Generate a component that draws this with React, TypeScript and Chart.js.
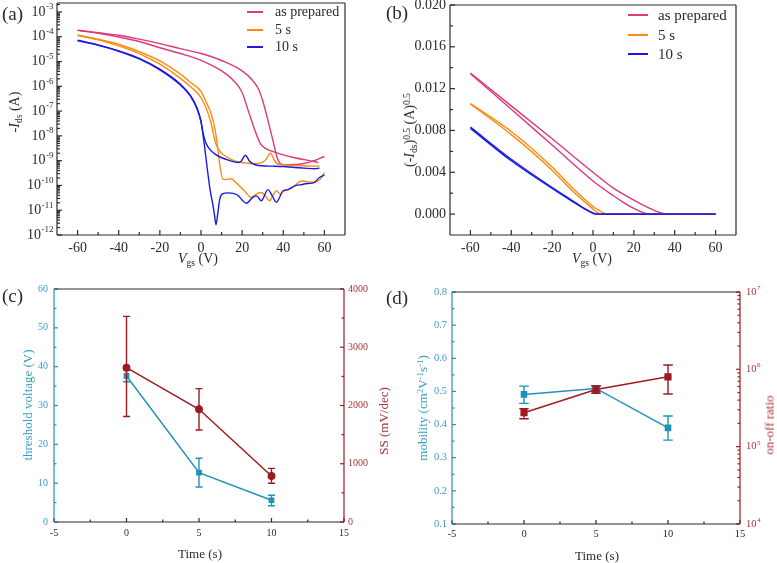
import React, { useEffect, useRef } from 'react';
import { Chart, registerables } from 'chart.js';

Chart.register(...registerables);

const SERIF = '"Liberation Serif", "Times New Roman", Times, serif';
Chart.defaults.font.family = SERIF;

const PINK = '#dc3a78';
const ORANGE = '#ff8a12';
const BLUE = '#1a1ae6';
const TEAL = '#2192b8';
const TEAL_TXT = '#3a9ec6';
const RED = '#9b1c20';
const RED_TXT = '#a8343a';
const INK = '#2a2a2a';

// ---------------- (a) transfer curves, log scale ----------------
const aTicksX = [-60, -40, -20, 0, 20, 40, 60];
const aMinorX = [-50, -30, -10, 10, 30, 50];
const aTicksY = [1e-12, 1e-11, 1e-10, 1e-9, 1e-8, 1e-7, 1e-6, 1e-5, 1e-4, 1e-3];

const aPrep1V = [-60, -50, -40, -30, -20, -10, 0, 10, 16, 20, 23, 26, 29, 32, 35, 40, 45, 50, 55, 57];
const aPrep1I = [1.8e-4, 1.38e-4, 9.8e-5, 6.4e-5, 3.6e-5, 2.1e-5, 1.12e-5, 4.2e-6, 1.65e-6, 5.6e-7, 1.02e-7, 1.86e-8, 4.6e-9, 2.9e-9, 2.3e-9, 1.7e-9, 1.34e-9, 1.1e-9, 9.2e-10, 8.4e-10];
const aPrep2V = [-60, -50, -40, -30, -20, -10, 0, 10, 20, 25, 28, 30, 33, 35, 37, 39, 42, 45, 50, 55, 60];
const aPrep2I = [1.85e-4, 1.45e-4, 1.15e-4, 8.0e-5, 5.3e-5, 3.3e-5, 2.1e-5, 1.1e-5, 4.2e-6, 1.76e-6, 7.6e-7, 2.6e-7, 3.0e-8, 6.3e-9, 1.34e-9, 7.2e-10, 6.8e-10, 7.0e-10, 7.7e-10, 1.0e-9, 1.47e-9];

const aFive1V = [-60, -50, -40, -30, -20, -10, -5, 0, 3, 5, 6, 7, 8, 10, 13, 16, 19.5, 23, 26, 29.3, 31.5, 33.8, 35.5, 37.4, 40, 45, 50, 55, 57.6];
const aFive1I = [1.15e-4, 7.5e-5, 4.3e-5, 2.1e-5, 7.8e-6, 2.1e-6, 9.5e-7, 3.5e-7, 1.02e-7, 3.0e-8, 1.2e-8, 5.5e-9, 3.4e-9, 2.0e-9, 1.34e-9, 1.0e-9, 8.4e-10, 7.9e-10, 7.7e-10, 8.1e-10, 1.1e-9, 2.0e-9, 1.1e-9, 7.2e-10, 6.8e-10, 6.4e-10, 6.2e-10, 6.0e-10, 6.0e-10];
const aFive2V = [-60, -50, -40, -30, -20, -10, -5, 0, 3, 5, 7, 8, 9, 10.6, 12, 14.6, 17, 19, 21, 24.4, 27, 29.3, 31, 33.3, 35, 36.6, 38.5, 40, 42.3, 45, 48.8, 52, 55, 58, 60];
const aFive2I = [1.15e-4, 7.9e-5, 5.0e-5, 2.5e-5, 1.06e-5, 3.1e-6, 1.42e-6, 6.1e-7, 1.9e-7, 7.5e-8, 1.5e-8, 4.0e-9, 8.0e-10, 1.79e-10, 1.75e-10, 1.85e-10, 1.3e-10, 9.0e-11, 6.1e-11, 3.3e-11, 4.5e-11, 5.2e-11, 4.0e-11, 2.4e-11, 4.0e-11, 6.1e-11, 4.5e-11, 5.7e-11, 6.8e-11, 8.8e-11, 1.5e-10, 1.4e-10, 1.35e-10, 1.8e-10, 3.3e-10];

const aTen1V = [-60, -50, -40, -30, -20, -10, -5, -2, 0, 0.8, 2, 3.5, 4.9, 7, 9.8, 14, 17.9, 19.5, 21.6, 23.6, 26, 29.3, 35, 40, 45.5, 50, 55.3, 57.6];
const aTen1I = [7.2e-5, 4.7e-5, 2.7e-5, 1.35e-5, 4.9e-6, 1.21e-6, 4.1e-7, 1.39e-7, 4.0e-8, 1.6e-8, 6.3e-9, 3.5e-9, 2.5e-9, 1.8e-9, 1.34e-9, 1.0e-9, 8.4e-10, 9.5e-10, 1.66e-9, 9.5e-10, 7.0e-10, 6.2e-10, 6.0e-10, 5.8e-10, 5.3e-10, 5.0e-10, 4.7e-10, 5.0e-10];
const aTen2V = [-60, -50, -40, -30, -20, -10, -5, -2, 0, 0.8, 2, 3.2, 4.5, 5.7, 6.5, 7.3, 8.2, 9.2, 10.6, 13, 15.5, 17.9, 20, 22, 25.3, 27, 29.3, 32.5, 34.5, 36.6, 39.9, 42.3, 45.5, 48, 52, 55, 57.6, 60];
const aTen2I = [7.0e-5, 4.5e-5, 2.6e-5, 1.28e-5, 4.6e-6, 1.12e-6, 3.8e-7, 1.25e-7, 3.6e-8, 1.4e-8, 2.5e-9, 3.8e-10, 6e-11, 1.8e-11, 7e-12, 2.6e-12, 8e-12, 3e-11, 4.7e-11, 5.0e-11, 4.8e-11, 4.0e-11, 2.6e-11, 1.9e-11, 3.4e-11, 3.8e-11, 2.4e-11, 6.8e-11, 4.0e-11, 2.1e-11, 6.1e-11, 6.8e-11, 9.6e-11, 1.05e-10, 1.2e-10, 1.3e-10, 2.1e-10, 2.6e-10];

// ---------------- (b) sqrt(-Ids) ----------------
const bTicksX = [-60, -40, -20, 0, 20, 40, 60];
const bMinorX = [-50, -30, -10, 10, 30, 50];
const bTicksY = [0, 0.004, 0.008, 0.012, 0.016, 0.02];
const bMinorY = [0.002, 0.006, 0.01, 0.014, 0.018];

const bPrep1V = [-60, -40, -20, 0, 10, 15, 20, 24, 27, 60];
const bPrep1S = [0.01343, 0.01003, 0.0066, 0.00317, 0.00175, 0.0011, 0.00054, 0.00019, 0, 0];
const bPrep2V = [-60, -40, -20, 0, 10, 20, 25, 30, 33, 36, 60];
const bPrep2S = [0.01349, 0.01035, 0.0072, 0.004, 0.00248, 0.00133, 0.0008, 0.00035, 0.00013, 0, 0];
const bFive1V = [-60, -40, -20, -10, 0, 2, 4, 60];
const bFive1S = [0.01054, 0.0076, 0.0042, 0.0022, 0.00048, 0.00016, 0, 0];
const bFive2V = [-60, -40, -20, -10, 0, 3, 5, 7, 60];
const bFive2S = [0.01057, 0.0079, 0.0045, 0.0025, 0.00073, 0.00035, 0.00013, 0, 0];
const bTen1V = [-60, -40, -20, -10, -5, 0, 3, 60];
const bTen1S = [0.00832, 0.00524, 0.00254, 0.00127, 0.00063, 0.0001, 0, 0];
const bTen2V = [-60, -40, -20, -10, -5, 0, 2, 60];
const bTen2S = [0.0082, 0.0051, 0.00245, 0.0012, 0.0006, 0.00008, 0, 0];

// ---------------- (c) & (d) vs time ----------------
const timeS = [0, 5, 10];
const tTicksX = [-5, 0, 5, 10, 15];
const tMinorX = [-2.5, 2.5, 7.5, 12.5];

const vth = [37.6, 12.7, 5.6];
const vthLo = [36.1, 9.0, 4.2];
const vthHi = [39.1, 16.4, 6.9];
const ss = [2650, 1935, 790];
const ssLo = [1810, 1580, 665];
const ssHi = [3530, 2290, 920];
const cTicksL = [0, 10, 20, 30, 40, 50, 60];
const cMinorL = [5, 15, 25, 35, 45, 55];
const cTicksR = [0, 1000, 2000, 3000, 4000];
const cMinorR = [500, 1500, 2500, 3500];

const mob = [0.491, 0.509, 0.39];
const mobLo = [0.464, 0.5, 0.353];
const mobHi = [0.516, 0.517, 0.426];
const onoff = [2.75e5, 5.5e5, 8.0e5];
const onoffLo = [2.3e5, 4.9e5, 4.8e5];
const onoffHi = [3.1e5, 6.1e5, 1.14e6];
const dTicksL = [0.1, 0.2, 0.3, 0.4, 0.5, 0.6, 0.7, 0.8];
const dMinorL = [0.15, 0.25, 0.35, 0.45, 0.55, 0.65, 0.75];
const dTicksR = [1e4, 1e5, 1e6, 1e7];

// ---------------- helpers ----------------
const pts = (xs: number[], ys: number[]) => xs.map((x, i) => ({ x, y: ys[i] }));
const logMinor = (lo: number, hi: number, max: number) => {
  const out: number[] = [];
  for (let e = lo; e <= hi; e++) for (let m = 2; m <= 9; m++) { const v = m * Math.pow(10, e); if (v < max) out.push(v); }
  return out;
};
const errPts = (xs: number[], lo: number[], hi: number[], w: number) =>
  xs.flatMap((x, i) => [
    { x, y: lo[i] }, { x, y: hi[i] }, { x, y: null },
    { x: x - w, y: hi[i] }, { x: x + w, y: hi[i] }, { x, y: null },
    { x: x - w, y: lo[i] }, { x: x + w, y: lo[i] }, { x, y: null },
  ]);

type TickSet = { id: string; side: 'bottom' | 'left' | 'right'; major: number[]; minor: number[]; color: string };
type LogLab = { id: string; side: 'left' | 'right'; values: number[]; color: string; size: number; pad: number };
type FrameSpec = { colors: { top: string; bottom: string; left: string; right: string }; ticks: TickSet[]; majorLen: number; minorLen: number; logLabels: LogLab[] };

function framePlugin(spec: FrameSpec) {
  return {
    id: 'frame',
    afterDatasetsDraw(chart: any) {
      const { ctx, chartArea: a } = chart;
      ctx.save();
      ctx.lineWidth = 1.2;
      const seg = (x1: number, y1: number, x2: number, y2: number, c: string) => {
        ctx.strokeStyle = c; ctx.beginPath(); ctx.moveTo(x1, y1); ctx.lineTo(x2, y2); ctx.stroke();
      };
      for (const t of spec.ticks) {
        const s = chart.scales[t.id];
        const draw = (v: number, len: number) => {
          const p = s.getPixelForValue(v);
          if (t.side === 'bottom') seg(p, a.bottom, p, a.bottom - len, t.color);
          else if (t.side === 'left') seg(a.left, p, a.left + len, p, t.color);
          else seg(a.right, p, a.right - len, p, t.color);
        };
        t.major.forEach((v) => draw(v, spec.majorLen));
        t.minor.forEach((v) => draw(v, spec.minorLen));
      }
      seg(a.left, a.top, a.right, a.top, spec.colors.top);
      seg(a.left, a.bottom, a.right, a.bottom, spec.colors.bottom);
      seg(a.left, a.top, a.left, a.bottom, spec.colors.left);
      seg(a.right, a.top, a.right, a.bottom, spec.colors.right);
      for (const L of spec.logLabels) {
        const s = chart.scales[L.id];
        const big = `${L.size}px ${SERIF}`;
        const small = `${Math.round(L.size * 0.64)}px ${SERIF}`;
        for (const v of L.values) {
          const y = s.getPixelForValue(v);
          const exp = String(Math.round(Math.log10(v)));
          ctx.fillStyle = L.color; ctx.textBaseline = 'middle'; ctx.textAlign = 'left';
          ctx.font = big; const bw = ctx.measureText('10').width;
          ctx.font = small; const sw = ctx.measureText(exp).width;
          const x0 = L.side === 'left' ? a.left - L.pad - bw - sw : a.right + L.pad;
          ctx.font = big; ctx.fillText('10', x0, y);
          ctx.font = small; ctx.fillText(exp, x0 + bw + 0.5, y - L.size * 0.36);
        }
      }
      ctx.restore();
    },
  };
}

const fixTicks = (vals: number[]) => (s: any) => { s.ticks = vals.map((v) => ({ value: v })); };
const fitW = (w: number) => (s: any) => { s.width = w; s.paddingTop = 0; s.paddingBottom = 0; };
const fitH = (h: number) => (s: any) => { s.height = h; s.paddingLeft = 0; s.paddingRight = 0; };
const noGrid = { display: false, drawTicks: false };
const noBorder = { display: false };

const curve = (label: string, xs: number[], ys: number[], color: string, order: number) => ({
  label, data: pts(xs, ys), borderColor: color, backgroundColor: color, showLine: true, pointRadius: 0,
  borderWidth: 1.4, cubicInterpolationMode: 'monotone', order,
});

function configA() {
  return {
    type: 'scatter',
    data: {
      datasets: [
        curve('10 s', aTen1V, aTen1I, BLUE, 0),
        curve('10 s', aTen2V, aTen2I, BLUE, 0),
        curve('5 s', aFive1V, aFive1I, ORANGE, 1),
        curve('5 s', aFive2V, aFive2I, ORANGE, 1),
        curve('as prepared', aPrep1V, aPrep1I, PINK, 2),
        curve('as prepared', aPrep2V, aPrep2I, PINK, 2),
      ],
    },
    options: {
      responsive: false, animation: false,
      layout: { padding: { top: 3, right: 43, left: 0, bottom: 0 } },
      plugins: { legend: { display: false }, tooltip: { enabled: false } },
      scales: {
        x: {
          type: 'linear', min: -70, max: 70, afterBuildTicks: fixTicks(aTicksX), afterFit: fitH(45),
          grid: noGrid, border: noBorder,
          ticks: { font: { size: 14 }, color: INK, padding: 5, autoSkip: false, maxRotation: 0, callback: (v: number) => String(v) },
        },
        y: {
          type: 'logarithmic', min: 1e-12, max: 2.3e-3, afterBuildTicks: fixTicks(aTicksY), afterFit: fitW(57),
          grid: noGrid, border: noBorder, ticks: { autoSkip: false, callback: () => '' },
        },
      },
    },
    plugins: [framePlugin({
      colors: { top: INK, bottom: INK, left: INK, right: INK }, majorLen: 5, minorLen: 3,
      ticks: [
        { id: 'x', side: 'bottom', major: aTicksX, minor: aMinorX, color: INK },
        { id: 'y', side: 'left', major: aTicksY, minor: logMinor(-12, -3, 2.3e-3), color: INK },
      ],
      logLabels: [{ id: 'y', side: 'left', values: aTicksY, color: INK, size: 14, pad: 4 }],
    })],
  };
}

function configB() {
  return {
    type: 'scatter',
    data: {
      datasets: [
        curve('10 s', bTen1V, bTen1S, BLUE, 0),
        curve('10 s', bTen2V, bTen2S, BLUE, 0),
        curve('5 s', bFive1V, bFive1S, ORANGE, 1),
        curve('5 s', bFive2V, bFive2S, ORANGE, 1),
        curve('as prepared', bPrep1V, bPrep1S, PINK, 2),
        curve('as prepared', bPrep2V, bPrep2S, PINK, 2),
      ],
    },
    options: {
      responsive: false, animation: false,
      layout: { padding: { top: 5, right: 41, left: 0, bottom: 0 } },
      plugins: { legend: { display: false }, tooltip: { enabled: false } },
      scales: {
        x: {
          type: 'linear', min: -70, max: 70, afterBuildTicks: fixTicks(bTicksX), afterFit: fitH(45),
          grid: noGrid, border: noBorder,
          ticks: { font: { size: 14 }, color: INK, padding: 5, autoSkip: false, maxRotation: 0, callback: (v: number) => String(v) },
        },
        y: {
          type: 'linear', min: -0.002, max: 0.02, afterBuildTicks: fixTicks(bTicksY), afterFit: fitW(62),
          grid: noGrid, border: noBorder,
          ticks: { font: { size: 14 }, color: INK, padding: 4, autoSkip: false, callback: (v: number) => v.toFixed(3) },
        },
      },
    },
    plugins: [framePlugin({
      colors: { top: INK, bottom: INK, left: INK, right: INK }, majorLen: 5, minorLen: 3,
      ticks: [
        { id: 'x', side: 'bottom', major: bTicksX, minor: bMinorX, color: INK },
        { id: 'y', side: 'left', major: bTicksY, minor: bMinorY, color: INK },
      ],
      logLabels: [],
    })],
  };
}

function configC() {
  return {
    type: 'scatter',
    data: {
      datasets: [
        { label: 'SS', data: pts(timeS, ss), yAxisID: 'y1', showLine: true, borderColor: RED, backgroundColor: RED, pointStyle: 'circle', pointRadius: 3.2, borderWidth: 1.5, order: 0 },
        { label: 'SS err', data: errPts(timeS, ssLo, ssHi, 0.24), yAxisID: 'y1', showLine: true, spanGaps: false, borderColor: RED, pointRadius: 0, borderWidth: 1.4, order: 1 },
        { label: 'Vth', data: pts(timeS, vth), yAxisID: 'y', showLine: true, borderColor: TEAL, backgroundColor: TEAL, pointStyle: 'rect', pointRadius: 3, borderWidth: 1.5, order: 2 },
        { label: 'Vth err', data: errPts(timeS, vthLo, vthHi, 0.24), yAxisID: 'y', showLine: true, spanGaps: false, borderColor: TEAL, pointRadius: 0, borderWidth: 1.4, order: 3 },
      ],
    },
    options: {
      responsive: false, animation: false,
      layout: { padding: { top: 9, right: 0, left: 0, bottom: 0 } },
      plugins: { legend: { display: false }, tooltip: { enabled: false } },
      scales: {
        x: {
          type: 'linear', min: -5, max: 15, afterBuildTicks: fixTicks(tTicksX), afterFit: fitH(41),
          grid: noGrid, border: noBorder,
          ticks: { font: { size: 10 }, color: INK, padding: 5, autoSkip: false, maxRotation: 0, callback: (v: number) => String(v) },
        },
        y: {
          type: 'linear', position: 'left', min: 0, max: 60, afterBuildTicks: fixTicks(cTicksL), afterFit: fitW(54),
          grid: noGrid, border: noBorder,
          ticks: { font: { size: 10 }, color: TEAL_TXT, padding: 6, autoSkip: false, callback: (v: number) => String(v) },
        },
        y1: {
          type: 'linear', position: 'right', min: 0, max: 4000, afterBuildTicks: fixTicks(cTicksR), afterFit: fitW(44),
          grid: noGrid, border: noBorder,
          ticks: { font: { size: 10 }, color: RED_TXT, padding: 4, autoSkip: false, callback: (v: number) => String(v) },
        },
      },
    },
    plugins: [framePlugin({
      colors: { top: INK, bottom: INK, left: TEAL, right: RED }, majorLen: 4, minorLen: 2.5,
      ticks: [
        { id: 'x', side: 'bottom', major: tTicksX, minor: tMinorX, color: INK },
        { id: 'y', side: 'left', major: cTicksL, minor: cMinorL, color: TEAL },
        { id: 'y1', side: 'right', major: cTicksR, minor: cMinorR, color: RED },
      ],
      logLabels: [],
    })],
  };
}

function configD() {
  return {
    type: 'scatter',
    data: {
      datasets: [
        { label: 'on-off', data: pts(timeS, onoff), yAxisID: 'y1', showLine: true, borderColor: RED, backgroundColor: RED, pointStyle: 'rect', pointRadius: 4, borderWidth: 1.5, order: 0 },
        { label: 'on-off err', data: errPts(timeS, onoffLo, onoffHi, 0.33), yAxisID: 'y1', showLine: true, spanGaps: false, borderColor: RED, pointRadius: 0, borderWidth: 1.4, order: 1 },
        { label: 'mobility', data: pts(timeS, mob), yAxisID: 'y', showLine: true, borderColor: TEAL, backgroundColor: TEAL, pointStyle: 'rect', pointRadius: 3.6, borderWidth: 1.5, order: 2 },
        { label: 'mobility err', data: errPts(timeS, mobLo, mobHi, 0.33), yAxisID: 'y', showLine: true, spanGaps: false, borderColor: TEAL, pointRadius: 0, borderWidth: 1.4, order: 3 },
      ],
    },
    options: {
      responsive: false, animation: false,
      layout: { padding: { top: 12, right: 0, left: 0, bottom: 0 } },
      plugins: { legend: { display: false }, tooltip: { enabled: false } },
      scales: {
        x: {
          type: 'linear', min: -5, max: 15, afterBuildTicks: fixTicks(tTicksX), afterFit: fitH(39),
          grid: noGrid, border: noBorder,
          ticks: { font: { size: 10.5 }, color: INK, padding: 4, autoSkip: false, maxRotation: 0, callback: (v: number) => String(v) },
        },
        y: {
          type: 'linear', position: 'left', min: 0.1, max: 0.8, afterBuildTicks: fixTicks(dTicksL), afterFit: fitW(64),
          grid: noGrid, border: noBorder,
          ticks: { font: { size: 10.5 }, color: TEAL_TXT, padding: 5, autoSkip: false, callback: (v: number) => v.toFixed(1) },
        },
        y1: {
          type: 'logarithmic', position: 'right', min: 1e4, max: 1e7, afterBuildTicks: fixTicks(dTicksR), afterFit: fitW(37),
          grid: noGrid, border: noBorder, ticks: { autoSkip: false, callback: () => '' },
        },
      },
    },
    plugins: [framePlugin({
      colors: { top: INK, bottom: INK, left: TEAL, right: RED }, majorLen: 4, minorLen: 2.5,
      ticks: [
        { id: 'x', side: 'bottom', major: tTicksX, minor: tMinorX, color: INK },
        { id: 'y', side: 'left', major: dTicksL, minor: dMinorL, color: TEAL },
        { id: 'y1', side: 'right', major: dTicksR, minor: logMinor(4, 6, 1e7), color: RED },
      ],
      logLabels: [{ id: 'y1', side: 'right', values: dTicksR, color: RED_TXT, size: 10.5, pad: 6 }],
    })],
  };
}

function Panel({ left, top, width, height, make }: { left: number; top: number; width: number; height: number; make: () => any }) {
  const ref = useRef<HTMLCanvasElement>(null);
  useEffect(() => {
    const chart = new Chart(ref.current as HTMLCanvasElement, make());
    return () => chart.destroy();
  }, []);
  return (
    <canvas ref={ref} width={width} height={height}
      style={{ position: 'absolute', left, top, width, height, display: 'block' }} />
  );
}

function Txt({ x, y, size, color = INK, rot = false, anchor = 'center', children }: any) {
  const tr = anchor === 'left' ? 'translate(0,-50%)' : `translate(-50%,-50%)${rot ? ' rotate(-90deg)' : ''}`;
  return (
    <div style={{ position: 'absolute', left: x, top: y, transform: tr, fontFamily: SERIF, fontSize: size, color, whiteSpace: 'nowrap', lineHeight: 1 }}>
      {children}
    </div>
  );
}

const subS: React.CSSProperties = { fontSize: '0.68em', position: 'relative', top: '0.3em', verticalAlign: 'baseline' };
const supS: React.CSSProperties = { fontSize: '0.68em', position: 'relative', top: '-0.45em', verticalAlign: 'baseline' };

const legendNames = ['as prepared', '5 s', '10 s'];
const legendColors = [PINK, ORANGE, BLUE];

function Legend({ lineX, lineW, textX, ys, size }: { lineX: number; lineW: number; textX: number; ys: number[]; size: number }) {
  return (
    <>
      {legendNames.map((n, i) => (
        <React.Fragment key={n}>
          <div style={{ position: 'absolute', left: lineX, top: ys[i] - 1, width: lineW, height: 2, background: legendColors[i] }} />
          <Txt x={textX} y={ys[i]} size={size} anchor="left">{n}</Txt>
        </React.Fragment>
      ))}
    </>
  );
}

export default function App() {
  return (
    <div style={{ position: 'absolute', left: 0, top: 0, width: 777, height: 563, background: '#fff', overflow: 'hidden' }}>
      <Panel left={0} top={0} width={388} height={280} make={configA} />
      <Panel left={388} top={0} width={389} height={280} make={configB} />
      <Panel left={0} top={280} width={388} height={283} make={configC} />
      <Panel left={388} top={280} width={389} height={283} make={configD} />

      <Txt x={2} y={13} size={19} anchor="left">(a)</Txt>
      <Txt x={386} y={12} size={19} anchor="left">(b)</Txt>
      <Txt x={2} y={295} size={19} anchor="left">(c)</Txt>
      <Txt x={386} y={297} size={19} anchor="left">(d)</Txt>

      <Legend lineX={247} lineW={16} textX={275} ys={[12, 29.5, 47]} size={14} />
      <Legend lineX={628} lineW={20} textX={658} ys={[15, 34.5, 54]} size={15} />

      <Txt x={198} y={259} size={14}><i>V</i><span style={subS}>gs</span> (V)</Txt>
      <Txt x={15} y={112} size={14} rot>-<i>I</i><span style={subS}>ds</span> (A)</Txt>
      <Txt x={592} y={259} size={14}><i>V</i><span style={subS}>gs</span> (V)</Txt>
      <Txt x={410} y={130} size={14} rot>(-<i>I</i><span style={subS}>ds</span>)<span style={supS}>0.5</span> (A)<span style={supS}>0.5</span></Txt>

      <Txt x={200} y={553} size={13}>Time (s)</Txt>
      <Txt x={27} y={405} size={13} color={TEAL_TXT} rot>threshold voltage (V)</Txt>
      <Txt x={383} y={421} size={13} color={RED_TXT} rot>SS (mV/dec)</Txt>

      <Txt x={597} y={555} size={13}>Time (s)</Txt>
      <Txt x={422} y={408} size={13} color={TEAL_TXT} rot>mobility (cm<span style={supS}>2</span>V<span style={supS}>-1</span>s<span style={supS}>-1</span>)</Txt>
      <Txt x={769} y={425} size={13} color={RED_TXT} rot>on-off ratio</Txt>
    </div>
  );
}
